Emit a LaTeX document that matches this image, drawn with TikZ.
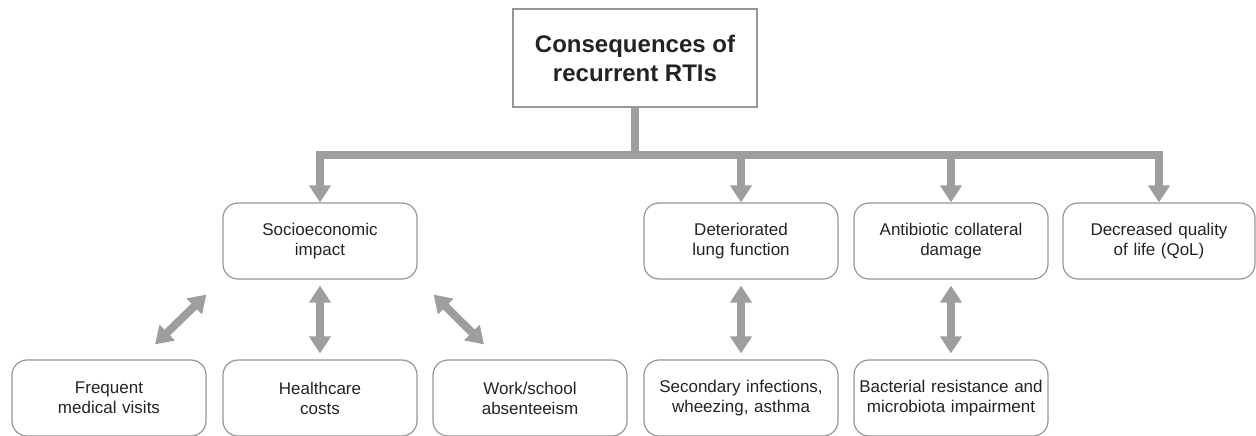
\documentclass[tikz,border=0pt]{standalone}
\usepackage{fontspec}
\setmainfont{Liberation Sans}
\usepackage{tikz}
\usetikzlibrary{arrows.meta,positioning}
\definecolor{boxgray}{RGB}{150,150,150}
\definecolor{arrgray}{RGB}{158,158,158}
\definecolor{txtgray}{RGB}{35,35,35}

\begin{document}
\begin{tikzpicture}[x=1pt,y=-1pt,
  topbox/.style={draw=boxgray,line width=1.2pt,minimum width=244pt,minimum height=98pt,align=center,text=txtgray,font=\bfseries\fontsize{24}{29}\selectfont},
  rbox/.style={draw=boxgray,line width=1.2pt,rounded corners=15pt,minimum width=194pt,minimum height=76pt,text width=188pt,inner sep=2pt,align=center,text=txtgray,font=\fontsize{17}{20}\selectfont},
  thickbar/.style={draw=arrgray,line width=8pt},
  downarr/.style={thickbar,-{Triangle[width=21pt,length=17pt]}},
  dblarr/.style={thickbar,{Triangle[width=21pt,length=17pt]}-{Triangle[width=21pt,length=17pt]}}]
\useasboundingbox (0,0) rectangle (1256,436);
\node [topbox] (top) at (635,58) {Consequences of\\recurrent RTIs};
\node [rbox] (soc) at (320,241) {Socioeconomic\\impact};
\node [rbox] (det) at (741,241) {Deteriorated\\lung function};
\node [rbox] (anti) at (951,241) {Antibiotic collateral\\damage};
\node [rbox,minimum width=192pt] (decr) at (1159,241) {Decreased quality\\of life (QoL)};
\node [rbox] (freq) at (109,398) {Frequent\\medical visits};
\node [rbox] (health) at (320,398) {Healthcare\\costs};
\node [rbox] (work) at (530,398) {Work/school\\absenteeism};
\node [rbox] (sec) at (741,398) {Secondary infections,\\wheezing, asthma};
\node [rbox] (bact) at (951,398) {Bacterial resistance and\\microbiota impairment};
\coordinate (stem) at (top.south |- 0,155);
\draw [thickbar] (top.south) -- (stem);
\draw [thickbar,line cap=rect] (soc.north |- stem) -- (decr.north |- stem);
\foreach \n in {soc,det,anti,decr}
  \draw [downarr] (\n.north |- stem) -- (\n.north);
\draw [dblarr,shorten <=6pt,shorten >=6pt] (soc) -- (health);
\draw [dblarr,shorten <=6pt,shorten >=6pt] (det) -- (sec);
\draw [dblarr,shorten <=6pt,shorten >=6pt] (anti) -- (bact);
\draw [dblarr] ([shift={(46,-15)}]freq.north) -- ([shift={(-16,15)}]soc.south west);
\draw [dblarr] ([shift={(16,15)}]soc.south east) -- ([shift={(-46,-15)}]work.north);
\end{tikzpicture}
\end{document}
